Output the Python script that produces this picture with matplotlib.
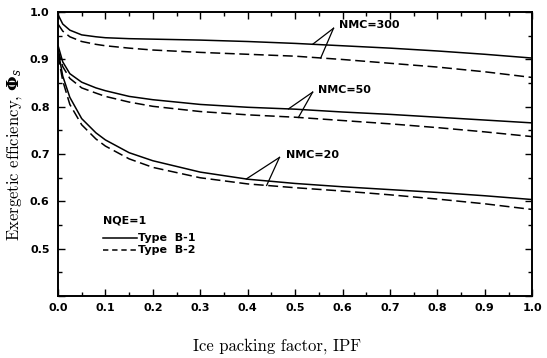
import numpy as np
import matplotlib
matplotlib.use("Agg")
import matplotlib.pyplot as plt
from matplotlib.ticker import MultipleLocator, FixedLocator, FixedFormatter

ipf = [0, 0.01, 0.025, 0.05, 0.08, 0.1, 0.15, 0.2, 0.3, 0.4, 0.5, 0.6, 0.7, 0.8, 0.9, 1.0]

nmc300_b1 = [0.995, 0.975, 0.962, 0.952, 0.948, 0.946, 0.944, 0.943, 0.941, 0.938, 0.934, 0.929, 0.924, 0.918, 0.911, 0.903]
nmc300_b2 = [0.975, 0.960, 0.948, 0.938, 0.932, 0.929, 0.924, 0.920, 0.915, 0.911, 0.907, 0.900, 0.892, 0.884, 0.874, 0.862]
nmc50_b1 = [0.930, 0.895, 0.870, 0.852, 0.840, 0.834, 0.822, 0.815, 0.805, 0.799, 0.795, 0.789, 0.784, 0.778, 0.772, 0.766]
nmc50_b2 = [0.920, 0.885, 0.860, 0.840, 0.829, 0.822, 0.810, 0.801, 0.790, 0.783, 0.778, 0.771, 0.764, 0.756, 0.747, 0.737]
nmc20_b1 = [0.920, 0.865, 0.820, 0.775, 0.745, 0.730, 0.703, 0.686, 0.662, 0.647, 0.638, 0.631, 0.625, 0.619, 0.612, 0.604]
nmc20_b2 = [0.910, 0.855, 0.805, 0.762, 0.732, 0.717, 0.690, 0.672, 0.650, 0.637, 0.629, 0.622, 0.614, 0.605, 0.595, 0.583]

xticks = [0.0, 0.1, 0.2, 0.3, 0.4, 0.5, 0.6, 0.7, 0.8, 0.9, 1.0]
xticklabels = ["0.0", "0.1", "0.2", "0.3", "0.4", "0.5", "0.6", "0.7", "0.8", "0.9", "1.0"]
yticks = [0.4, 0.5, 0.6, 0.7, 0.8, 0.9, 1.0]
yticklabels = ["", "0.5", "0.6", "0.7", "0.8", "0.9", "1.0"]

labels = ["NMC=300", "NMC=50", "NMC=20"]

plt.rcParams["mathtext.fontset"] = "dejavuserif"
fig = plt.figure(figsize=(5.47, 3.58), dpi=100)
ax = fig.add_axes([0.106, 0.173, 0.867, 0.793])

lw = 1.1
dash = (0, (6.5, 3))
pairs = [(nmc300_b1, nmc300_b2), (nmc50_b1, nmc50_b2), (nmc20_b1, nmc20_b2)]
for b1, b2 in pairs:
    ax.plot(ipf, b1, color="black", lw=lw, solid_capstyle="butt")
    ax.plot(ipf, b2, color="black", lw=lw, linestyle=dash)

ax.set_xlim(0, 1.0)
ax.set_ylim(0.4, 1.0)

boldfont = dict(family="DejaVu Sans", weight="bold", size=8)
ax.xaxis.set_major_locator(FixedLocator(xticks))
ax.xaxis.set_major_formatter(FixedFormatter(xticklabels))
ax.yaxis.set_major_locator(FixedLocator(yticks))
ax.yaxis.set_major_formatter(FixedFormatter(yticklabels))
ax.xaxis.set_minor_locator(MultipleLocator(0.05))
ax.yaxis.set_minor_locator(MultipleLocator(0.05))
ax.tick_params(which="both", direction="in", top=True, right=True, width=1.0)
ax.tick_params(which="major", length=5)
ax.tick_params(which="minor", length=3)
ax.tick_params(axis="x", which="major", pad=5)
ax.tick_params(axis="y", which="major", pad=6)
for lab in ax.get_xticklabels() + ax.get_yticklabels():
    lab.set_fontfamily("DejaVu Sans")
    lab.set_fontweight("bold")
    lab.set_fontsize(8)
for s in ax.spines.values():
    s.set_linewidth(1.4)

fig.text(277 / 547, 1 - 346 / 358, "Ice packing factor, IPF", family="cmr10",
         fontsize=12, ha="center", va="center")
ax.set_ylabel(r"Exergetic efficiency, $\mathbf{\Phi}_{s}$", family="cmr10", fontsize=12, labelpad=4)

# annotations: (text x, text y, apex x, apex y, solid end x, dashed end x)
ann = [
    (0.592, 0.972, 0.581, 0.966, 0.537, 0.554),
    (0.548, 0.835, 0.537, 0.831, 0.486, 0.507),
    (0.480, 0.698, 0.467, 0.693, 0.397, 0.440),
]
for lab, (tx, ty, sx, sy, e1, e2), (b1, b2) in zip(labels, ann, pairs):
    ax.text(tx, ty, lab, ha="left", va="center", **boldfont)
    y1 = np.interp(e1, ipf, b1)
    y2 = np.interp(e2, ipf, b2)
    ax.plot([sx, e1], [sy, y1], color="black", lw=0.9)
    ax.plot([sx, e2], [sy, y2], color="black", lw=0.9)

# legend
ax.text(0.095, 0.560, "NQE=1", ha="left", va="center", **boldfont)
ax.plot([0.095, 0.167], [0.522, 0.522], color="black", lw=lw)
ax.text(0.169, 0.522, "Type  B-1", ha="left", va="center", **boldfont)
ax.plot([0.095, 0.167], [0.497, 0.497], color="black", lw=lw, linestyle=(0, (3.5, 2.5)))
ax.text(0.169, 0.497, "Type  B-2", ha="left", va="center", **boldfont)

fig.savefig("out.png", dpi=100)
